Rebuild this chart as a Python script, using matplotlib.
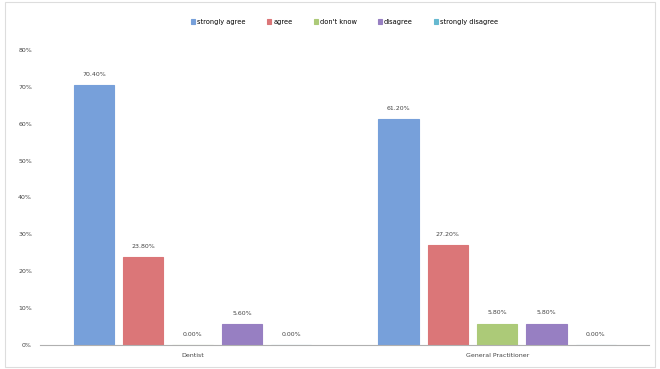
import numpy as np
import matplotlib.pyplot as plt

groups = ["Dentist", "General Practitioner"]
series = ["strongly agree", "agree", "don't know", "disagree", "strongly disagree"]
dentist = [70.40, 23.80, 0.00, 5.60, 0.00]
gp = [61.20, 27.20, 5.80, 5.80, 0.00]
colors = ["#77a0da", "#db7678", "#acca78", "#977fc2", "#66b9d0"]
yticks = [0, 10, 20, 30, 40, 50, 60, 70, 80]

fig = plt.figure(figsize=(6.6, 3.69), dpi=100)
ax = fig.add_axes([0.061, 0.065, 0.923, 0.80])

values = np.array([dentist, gp])
x = np.arange(len(groups))
width = 0.133
step = 0.162
for i, name in enumerate(series):
    pos = x + (i - 2) * step
    bars = ax.bar(pos, values[:, i], width, color=colors[i],
                  edgecolor=colors[i], linewidth=0.8, label=name)
    for b, v in zip(bars, values[:, i]):
        ax.text(b.get_x() + b.get_width() / 2, v + 2.2, f"{v:.2f}%",
                ha="center", va="bottom", fontsize=4.5, color="#444444")

ax.set_xlim(-0.5, 1.5)
ax.set_ylim(0, 80)
ax.set_yticks(yticks)
ax.set_yticklabels([f"{t}%" for t in yticks], fontsize=4.5, color="#444444")
ax.set_xticks(x)
ax.set_xticklabels(groups, fontsize=4.5, color="#444444")
ax.tick_params(length=0, pad=6)
for s in ["top", "right", "left"]:
    ax.spines[s].set_visible(False)
ax.spines["bottom"].set_color("#b0b0b0")

ax.legend(loc="center", bbox_to_anchor=(0.5, 1.095), ncol=5, frameon=False,
          fontsize=4.8, handlelength=0.6, handleheight=0.6, columnspacing=3.2,
          handletextpad=0.3)

fig.patches.append(plt.Rectangle((0.008, 0.005), 0.985, 0.99, transform=fig.transFigure,
                                 fill=False, edgecolor="#dddddd", linewidth=0.8))

fig.savefig("out.png", dpi=100)
